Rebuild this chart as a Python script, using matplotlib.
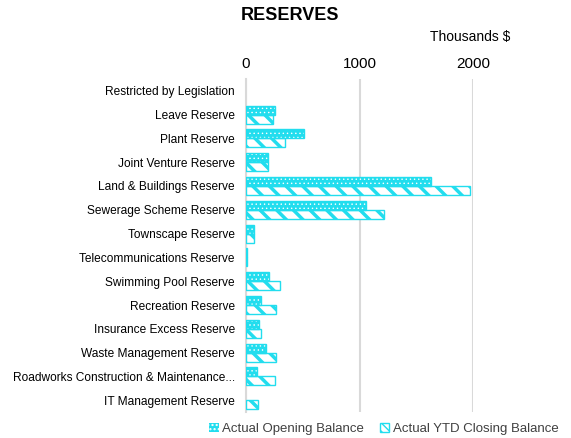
import numpy as np
import matplotlib.pyplot as plt
from matplotlib.patches import Patch

categories = [
    'Restricted by Legislation', 'Leave Reserve', 'Plant Reserve',
    'Joint Venture Reserve', 'Land & Buildings Reserve', 'Sewerage Scheme Reserve',
    'Townscape Reserve', 'Telecommunications Reserve', 'Swimming Pool Reserve',
    'Recreation Reserve', 'Insurance Excess Reserve', 'Waste Management Reserve',
    'Roadworks Construction & Maintenance...', 'IT Management Reserve',
]
opening = [0, 252, 507, 194, 1630, 1059, 73, 5, 202, 132, 114, 176, 94, 0]
closing = [0, 235, 340, 194, 1974, 1217, 73, 5, 299, 261, 132, 261, 255, 103]

plt.rcParams['font.family'] = ['Liberation Sans', 'DejaVu Sans']

cyan = '#22DDEE'
fig = plt.figure(figsize=(5.71, 4.38), dpi=100)
ax = fig.add_axes([0.431, 0.059, 0.398, 0.761])

y = np.arange(len(categories))
h = 0.38
op = np.array(opening)
cl = np.array(closing)

# opening balance: cyan fill with small white dots
with plt.rc_context({'hatch.linewidth': 0.5}):
    ax.barh(y - h / 2, op, h, color=cyan, edgecolor='white', hatch='....', linewidth=0, zorder=3)
m = op > 0
ax.barh(y[m] - h / 2, op[m], h, fill=False, edgecolor=cyan, linewidth=1, zorder=4)

# closing balance: white fill with wide cyan stripes
with plt.rc_context({'hatch.linewidth': 2.5}):
    ax.barh(y + h / 2, cl, h, color='white', edgecolor=cyan, hatch='\\\\', linewidth=0, zorder=3)
m = cl > 0
ax.barh(y[m] + h / 2, cl[m], h, fill=False, edgecolor=cyan, linewidth=1, zorder=4)

ax.set_ylim(len(categories) - 0.5, -0.5)
ax.set_xlim(0, 2000)
ax.set_xticks([0, 1000, 2000])
ax.xaxis.tick_top()
ax.tick_params(axis='x', length=0, labelsize=11, pad=6)
ax.tick_params(axis='y', length=0, labelsize=8.6, pad=8)
ax.set_yticks(y)
ax.set_yticklabels(categories)
ax.grid(axis='x', color='#D9D9D9', linewidth=1.5, zorder=0)
for s in ['top', 'right', 'bottom']:
    ax.spines[s].set_visible(False)
ax.spines['left'].set_color('#D9D9D9')
ax.spines['left'].set_linewidth(1.5)

fig.text(0.508, 0.965, 'RESERVES', ha='center', va='center', fontsize=13, fontweight='bold')
fig.text(0.823, 0.915, 'Thousands $', ha='center', va='center', fontsize=10)

with plt.rc_context({'hatch.linewidth': 0.5}):
    h1 = Patch(facecolor=cyan, edgecolor='white', hatch='....', linewidth=0)
with plt.rc_context({'hatch.linewidth': 2.0}):
    h2 = Patch(facecolor='white', edgecolor=cyan, hatch='\\\\\\\\', linewidth=1)
fig.legend([h1, h2], ['Actual Opening Balance', 'Actual YTD Closing Balance'],
           loc='lower right', bbox_to_anchor=(1.0, -0.02), ncol=2, frameon=False,
           fontsize=9.5, handlelength=0.7, handleheight=0.7, handletextpad=0.3,
           columnspacing=1.2, labelcolor='#404040')

fig.savefig('out.png', dpi=100)
